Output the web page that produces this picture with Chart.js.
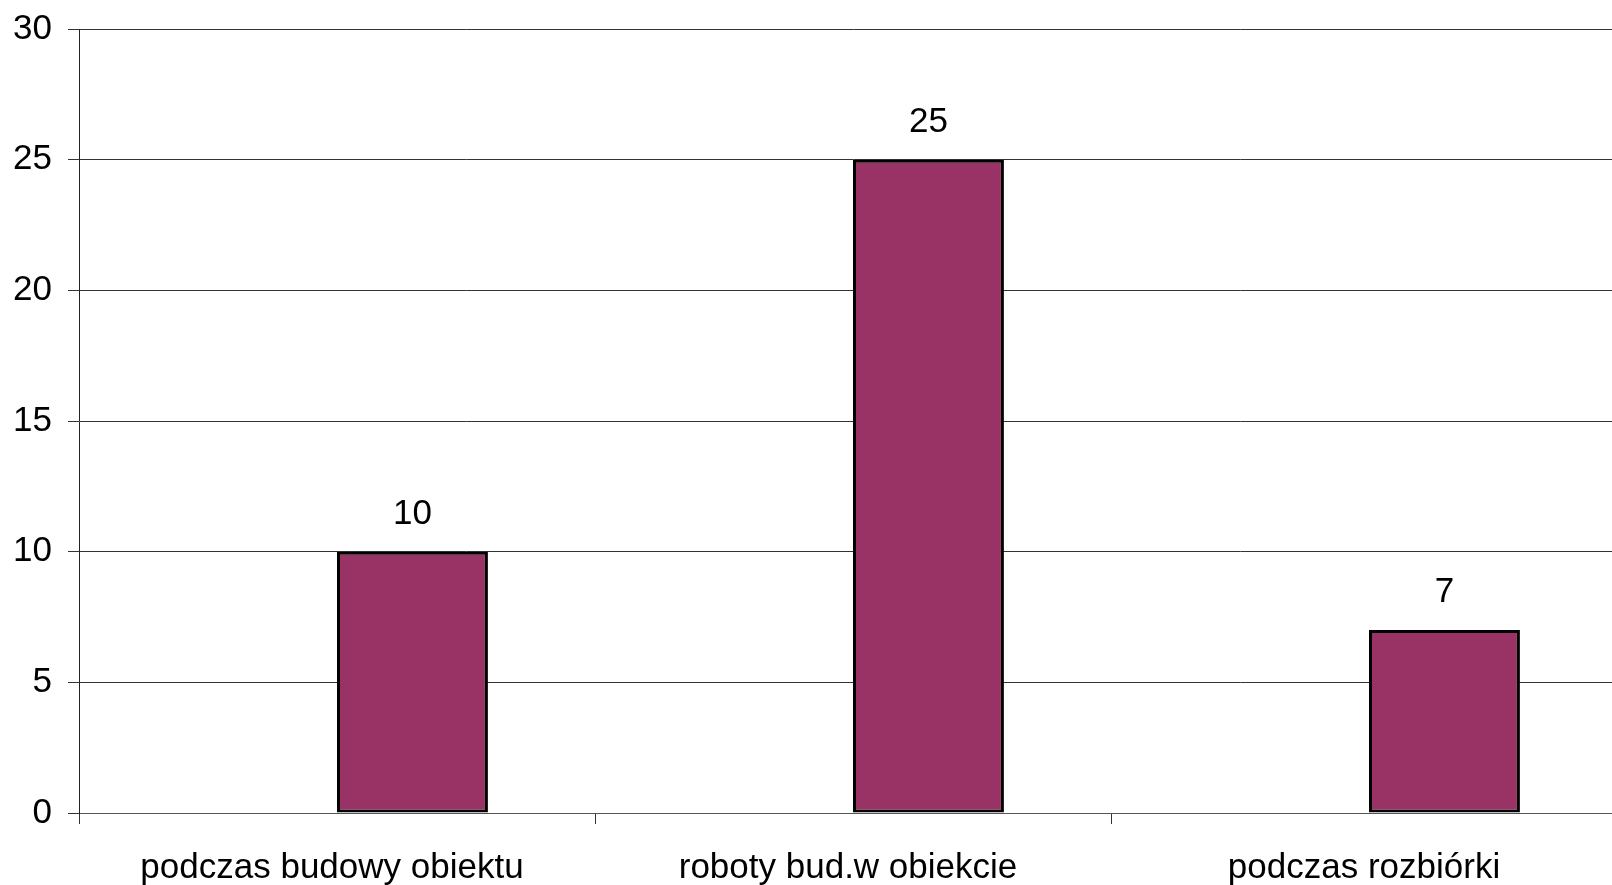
<!DOCTYPE html>
<html>
<head>
<meta charset="utf-8">
<script src="https://cdn.jsdelivr.net/npm/chart.js@4/dist/chart.umd.min.js"></script>
<style>
  html, body { margin: 0; padding: 0; background: #fff; overflow: hidden; }
  canvas { display: block; }
</style>
</head>
<body>
<canvas id="chart" width="1630" height="885"></canvas>
<script>
// Categories and values
const categories = ['podczas budowy obiektu', 'roboty bud.w obiekcie', 'podczas rozbiórki'];
const emptySeries = [null, null, null];       // placeholder series, left slot of each group
const accidentCounts = [10, 25, 7];
const yTickValues = [0, 5, 10, 15, 20, 25, 30];

const FONT = '"Liberation Sans", Arial, sans-serif';
const BAR_FILL = '#993366';
const GRID = '#333';

// Writes each bar's value above it
const valueLabels = {
  id: 'valueLabels',
  afterDatasetsDraw(chart) {
    const ctx = chart.ctx;
    const meta = chart.getDatasetMeta(1);
    ctx.save();
    ctx.font = '35px ' + FONT;
    ctx.fillStyle = '#000';
    ctx.textAlign = 'center';
    ctx.textBaseline = 'alphabetic';
    meta.data.forEach((bar, i) => {
      const v = chart.data.datasets[1].data[i];
      if (v == null) return;
      ctx.fillText(String(v), bar.x, bar.y - 28);
    });
    ctx.restore();
  }
};

new Chart(document.getElementById('chart'), {
  type: 'bar',
  data: {
    labels: categories,
    datasets: [
      {
        label: 'seria 1',
        data: emptySeries,
        backgroundColor: BAR_FILL
      },
      {
        label: 'seria 2',
        data: accidentCounts,
        backgroundColor: BAR_FILL,
        borderColor: '#000',
        borderWidth: 3,
        borderSkipped: false
      }
    ]
  },
  options: {
    responsive: false,
    animation: false,
    categoryPercentage: 0.585,
    barPercentage: 1.0,
    layout: { padding: { top: 29, right: 3, left: 0, bottom: 0 } },
    plugins: {
      legend: { display: false },
      tooltip: { enabled: false }
    },
    scales: {
      x: {
        offset: true,
        grid: {
          drawOnChartArea: false,
          drawTicks: true,
          tickLength: 11,
          color: GRID
        },
        border: { display: true, color: '#555', width: 1 },
        ticks: {
          color: '#000',
          font: { family: FONT, size: 35 },
          padding: 23,
          labelOffset: -5,
          maxRotation: 0,
          autoSkip: false
        },
        afterFit(scale) {
          scale.height = 72;
          scale.paddingLeft = 0;
          scale.paddingRight = 0;
        }
      },
      y: {
        min: 0,
        max: 30,
        afterBuildTicks(scale) {
          scale.ticks = yTickValues.map(v => ({ value: v }));
        },
        grid: {
          drawTicks: true,
          tickLength: 11,
          color: GRID,
          lineWidth: 1
        },
        border: { display: true, color: '#222', width: 1 },
        ticks: {
          color: '#000',
          font: { family: FONT, size: 35 },
          padding: 16
        },
        afterFit(scale) {
          scale.width = 79;
          scale.paddingTop = 0;
          scale.paddingBottom = 0;
        }
      }
    }
  },
  plugins: [valueLabels]
});
</script>
</body>
</html>
